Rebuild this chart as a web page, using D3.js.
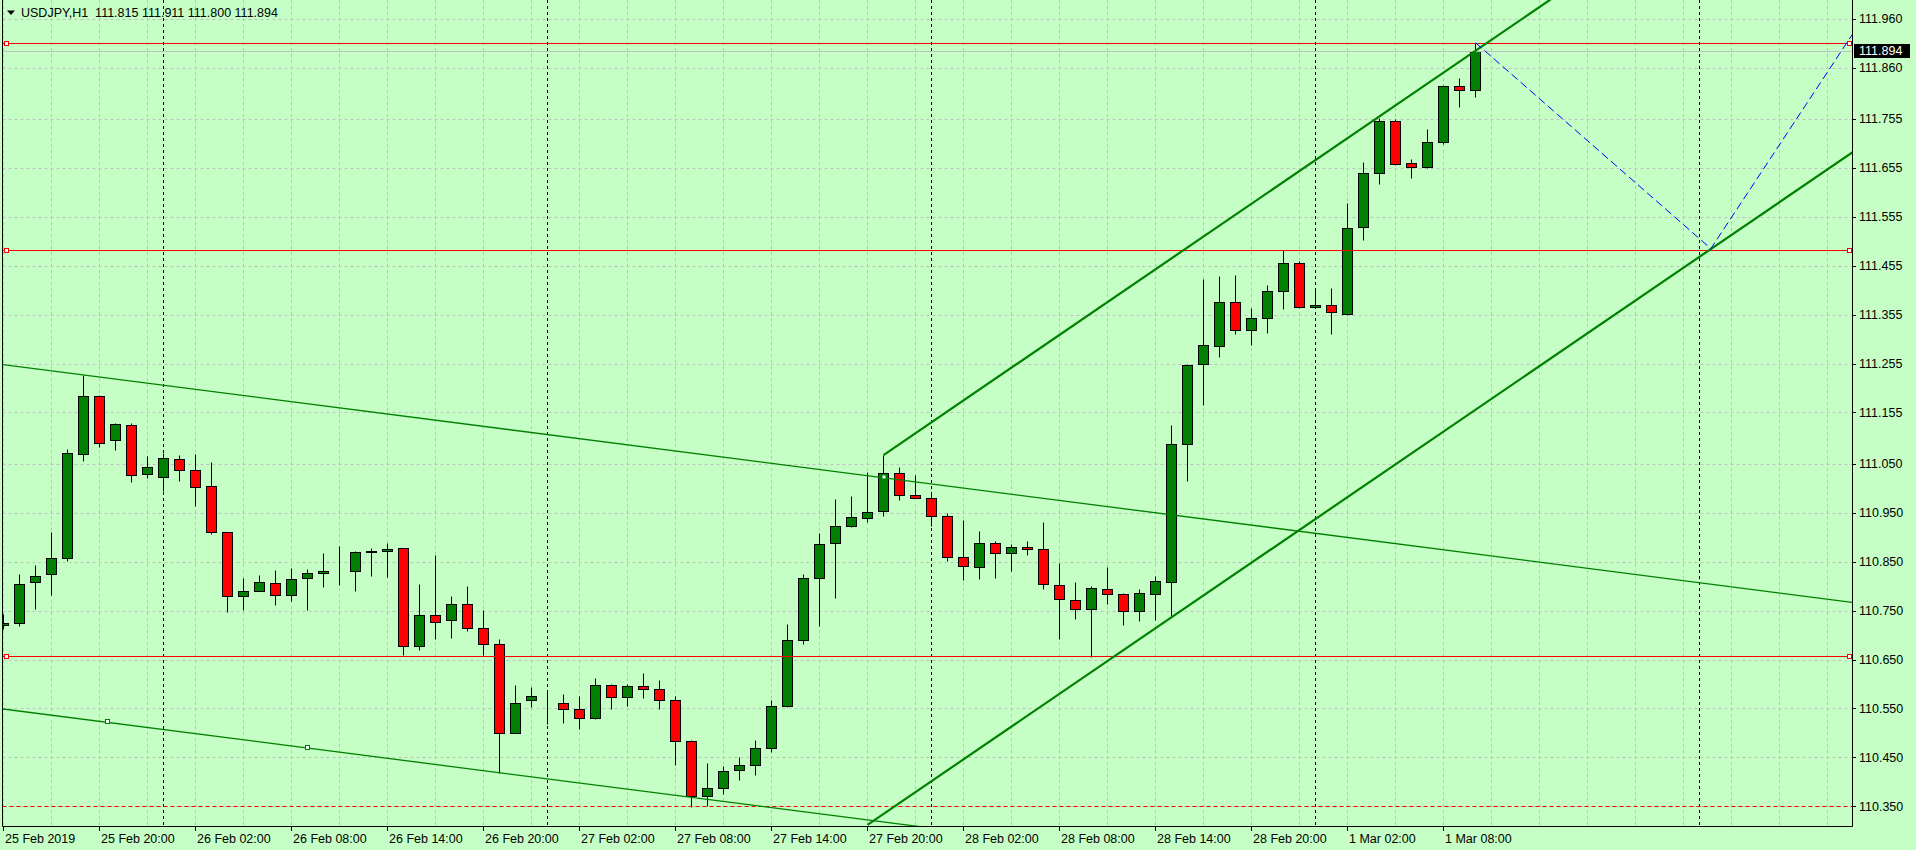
<!DOCTYPE html>
<html>
<head>
<meta charset="utf-8">
<script src="https://cdn.jsdelivr.net/npm/d3@7/dist/d3.min.js"></script>
<style>
  html, body { margin: 0; padding: 0; background: #c5ffc5; overflow: hidden; }
  svg text { font-family: "Liberation Sans", Arial, sans-serif; font-size: 12.5px; fill: #000; }
</style>
</head>
<body>
<svg id="chart" width="1916" height="850"></svg>
<script>
// USDJPY H1, bar 0 = 25 Feb 2019 14:00
const opens = [
  110.720, 110.725, 110.808, 110.824, 110.857, 111.070, 111.188, 111.098, 111.129, 111.029,
  111.023, 111.059, 111.037, 111.004, 110.910, 110.779, 110.790, 110.806, 110.781, 110.816,
  110.826, 110.832, 110.832, 110.869, 110.871, 110.877, 110.677, 110.742, 110.730, 110.763,
  110.714, 110.681, 110.499, 110.567, 110.562, 110.561, 110.548, 110.530, 110.597, 110.573,
  110.595, 110.589, 110.567, 110.483, 110.372, 110.387, 110.424, 110.434, 110.469, 110.555,
  110.689, 110.816, 110.888, 110.922, 110.939, 110.953, 111.031, 110.986, 110.980, 110.943,
  110.859, 110.839, 110.888, 110.867, 110.881, 110.875, 110.802, 110.771, 110.753, 110.794,
  110.783, 110.749, 110.785, 110.808, 111.090, 111.254, 111.290, 111.380, 111.323, 111.348,
  111.403, 111.460, 111.370, 111.374, 111.356, 111.534, 111.644, 111.750, 111.666, 111.656,
  111.707, 111.822, 111.815
];
const highs = [
  110.744, 110.825, 110.843, 110.911, 111.080, 111.232, 111.191, 111.133, 111.133, 111.066,
  111.073, 111.068, 111.070, 111.054, 110.910, 110.816, 110.823, 110.833, 110.837, 110.835,
  110.868, 110.882, 110.872, 110.878, 110.888, 110.877, 110.804, 110.864, 110.780, 110.800,
  110.751, 110.692, 110.598, 110.594, 110.583, 110.580, 110.575, 110.612, 110.599, 110.601,
  110.622, 110.608, 110.575, 110.485, 110.438, 110.432, 110.451, 110.486, 110.567, 110.723,
  110.824, 110.909, 110.978, 110.984, 111.033, 111.068, 111.043, 111.027, 110.992, 110.949,
  110.935, 110.913, 110.892, 110.886, 110.892, 110.931, 110.847, 110.809, 110.800, 110.839,
  110.787, 110.794, 110.820, 111.129, 111.254, 111.428, 111.434, 111.436, 111.368, 111.415,
  111.488, 111.464, 111.407, 111.410, 111.583, 111.668, 111.758, 111.754, 111.673, 111.734,
  111.824, 111.838, 111.911
];
const lows = [
  110.712, 110.719, 110.753, 110.781, 110.852, 111.056, 111.085, 111.079, 111.012, 111.022,
  110.995, 111.014, 110.964, 110.907, 110.747, 110.751, 110.790, 110.762, 110.770, 110.752,
  110.799, 110.803, 110.791, 110.821, 110.819, 110.659, 110.670, 110.692, 110.695, 110.709,
  110.659, 110.419, 110.499, 110.552, 110.518, 110.521, 110.509, 110.528, 110.548, 110.556,
  110.572, 110.549, 110.435, 110.349, 110.351, 110.375, 110.403, 110.413, 110.461, 110.552,
  110.682, 110.719, 110.776, 110.920, 110.931, 110.943, 110.976, 110.980, 110.922, 110.851,
  110.812, 110.814, 110.816, 110.832, 110.864, 110.795, 110.693, 110.733, 110.655, 110.764,
  110.721, 110.729, 110.731, 110.738, 111.014, 111.171, 111.268, 111.316, 111.292, 111.318,
  111.366, 111.368, 111.370, 111.316, 111.354, 111.508, 111.623, 111.660, 111.635, 111.654,
  111.703, 111.780, 111.800
];
const closes = [
  110.725, 110.804, 110.820, 110.857, 111.072, 111.188, 111.092, 111.131, 111.027, 111.043,
  111.063, 111.037, 111.002, 110.910, 110.779, 110.790, 110.808, 110.781, 110.814, 110.826,
  110.832, 110.832, 110.869, 110.872, 110.875, 110.677, 110.742, 110.727, 110.763, 110.714,
  110.681, 110.499, 110.561, 110.575, 110.561, 110.548, 110.530, 110.597, 110.573, 110.595,
  110.589, 110.567, 110.483, 110.372, 110.387, 110.422, 110.434, 110.469, 110.555, 110.689,
  110.816, 110.886, 110.924, 110.941, 110.951, 111.031, 110.986, 110.980, 110.943, 110.859,
  110.841, 110.888, 110.867, 110.881, 110.875, 110.804, 110.773, 110.753, 110.796, 110.783,
  110.749, 110.787, 110.810, 111.090, 111.252, 111.294, 111.380, 111.323, 111.348, 111.403,
  111.460, 111.370, 111.374, 111.360, 111.532, 111.644, 111.750, 111.664, 111.656, 111.707,
  111.822, 111.815, 111.894
];

const timeLabels = ['25 Feb 2019', '25 Feb 20:00', '26 Feb 02:00', '26 Feb 08:00', '26 Feb 14:00',
  '26 Feb 20:00', '27 Feb 02:00', '27 Feb 08:00', '27 Feb 14:00', '27 Feb 20:00', '28 Feb 02:00',
  '28 Feb 08:00', '28 Feb 14:00', '28 Feb 20:00', '1 Mar 02:00', '1 Mar 08:00'];
const labelBars = [0, 6, 12, 18, 24, 30, 36, 42, 48, 54, 60, 66, 72, 78, 84, 90];
const priceTicks = [110.350, 110.450, 110.550, 110.650, 110.750, 110.850, 110.950, 111.050,
  111.155, 111.255, 111.355, 111.455, 111.555, 111.655, 111.755, 111.860, 111.960];
const separatorBars = [10, 34, 58, 82, 106]; // midnight of each day
const gridBars = [0, 3, 6, 9, 12, 15, 18, 21, 24, 27, 30, 33, 36, 39, 42, 45, 48, 51, 54, 57, 60,
  63, 66, 69, 72, 75, 78, 81, 84, 87, 90, 93, 96, 99, 102, 105, 108, 111, 114];

// objects drawn on the chart
const redLevels = [111.911, 111.488, 110.657];
const dottedLevel = 110.350;
const bidPrice = 111.894;
const header = 'USDJPY,H1  111.815 111.911 111.800 111.894';
// [bar, price] pairs
const oldChannelUpper = [[-1, 111.257], [116, 110.765]];
const oldChannelLower = [[-1, 110.553], [70, 110.255]];
const oldChannelAnchors = [[6.5, 110.522], [19, 110.469]];
const channelUpper = [[55, 111.068], [120, 112.520]];
const channelLower = [[54, 110.312], [120, 111.786]];
const channelMarker = [55, 111.023];
const projection = [[92, 111.911], [106.71, 111.490], [116, 111.950]];

const PLOT = { LEFT: 2.5, RIGHT: 1852.5, TOP: 0, BOTTOM: 826.5 };
const BAR = 16;

const x = d3.scaleLinear().domain([0, 115]).range([3.5, 3.5 + BAR * 115]);
const y = d3.scaleLinear().domain([110.350, 111.960]).range([806.3, 18.7]);
const cy = v => Math.round(y(v)) + 0.5;

const svg = d3.select('#chart');
svg.append('rect').attr('width', 1916).attr('height', 850).attr('fill', '#c5ffc5');

svg.append('clipPath').attr('id', 'plot')
  .append('rect')
  .attr('x', PLOT.LEFT + 0.5).attr('y', PLOT.TOP)
  .attr('width', PLOT.RIGHT - PLOT.LEFT - 1).attr('height', PLOT.BOTTOM - PLOT.TOP - 0.5);

const plot = svg.append('g').attr('clip-path', 'url(#plot)');

// grid
plot.append('g').selectAll('line').data(priceTicks).join('line')
  .attr('x1', PLOT.LEFT).attr('x2', PLOT.RIGHT)
  .attr('y1', cy).attr('y2', cy)
  .attr('stroke', '#c0c0c0').attr('stroke-dasharray', '3,3');
plot.append('g').selectAll('line').data(gridBars).join('line')
  .attr('x1', x).attr('x2', x)
  .attr('y1', PLOT.TOP).attr('y2', PLOT.BOTTOM)
  .attr('stroke', '#c0c0c0').attr('stroke-dasharray', '3,3');
plot.append('g').selectAll('line').data(separatorBars).join('line')
  .attr('x1', x).attr('x2', x)
  .attr('y1', PLOT.TOP).attr('y2', PLOT.BOTTOM)
  .attr('stroke', '#000').attr('stroke-dasharray', '3,3');

// candles
const bars = d3.range(opens.length);
const candles = plot.append('g').selectAll('g').data(bars).join('g');
candles.append('line')
  .attr('x1', x).attr('x2', x)
  .attr('y1', i => cy(highs[i])).attr('y2', i => cy(lows[i]))
  .attr('stroke', '#000');
candles.append('rect')
  .attr('x', i => x(i) - 5)
  .attr('y', i => cy(Math.max(opens[i], closes[i])))
  .attr('width', 10)
  .attr('height', i => cy(Math.min(opens[i], closes[i])) - cy(Math.max(opens[i], closes[i])))
  .attr('fill', i => (closes[i] >= opens[i] ? '#008000' : '#ff0000'))
  .attr('stroke', '#000');

// objects
const line = d3.line().x(d => x(d[0])).y(d => y(d[1]));

plot.append('line')
  .attr('x1', PLOT.LEFT).attr('x2', PLOT.RIGHT)
  .attr('y1', cy(bidPrice)).attr('y2', cy(bidPrice))
  .attr('stroke', '#c0c0c0');

plot.append('line')
  .attr('x1', PLOT.LEFT).attr('x2', PLOT.RIGHT)
  .attr('y1', cy(dottedLevel)).attr('y2', cy(dottedLevel))
  .attr('stroke', '#ff0000').attr('stroke-dasharray', '4,3');

plot.append('g').selectAll('line').data(redLevels).join('line')
  .attr('x1', PLOT.LEFT).attr('x2', PLOT.RIGHT)
  .attr('y1', cy).attr('y2', cy)
  .attr('stroke', '#ff0000');

[oldChannelUpper, oldChannelLower].forEach(pts => {
  plot.append('path').attr('d', line(pts))
    .attr('fill', 'none').attr('stroke', '#008000').attr('stroke-width', 1.3);
});
[channelUpper, channelLower].forEach(pts => {
  plot.append('path').attr('d', line(pts))
    .attr('fill', 'none').attr('stroke', '#008000').attr('stroke-width', 2.2);
});
plot.append('path').attr('d', line(projection))
  .attr('fill', 'none').attr('stroke', '#0000ff').attr('stroke-dasharray', '8,4');

plot.append('g').selectAll('rect').data(oldChannelAnchors).join('rect')
  .attr('x', d => Math.round(x(d[0])) - 2.5).attr('y', d => Math.round(y(d[1])) - 2.5)
  .attr('width', 4).attr('height', 4)
  .attr('fill', '#ffffff').attr('stroke', '#008000');
plot.append('rect')
  .attr('x', Math.round(x(channelMarker[0])) - 1.5).attr('y', Math.round(y(channelMarker[1])) - 1.5)
  .attr('width', 3).attr('height', 3).attr('fill', '#ffffff');

// level end squares
const ends = [];
redLevels.forEach(v => { ends.push([PLOT.LEFT + 3, v]); ends.push([PLOT.RIGHT - 4, v]); });
plot.append('g').selectAll('rect').data(ends).join('rect')
  .attr('x', d => Math.round(d[0]) - 1.5).attr('y', d => cy(d[1]) - 2)
  .attr('width', 4).attr('height', 4)
  .attr('fill', '#ffffff').attr('stroke', '#ff0000');

// frame
svg.append('path')
  .attr('d', `M${PLOT.LEFT},0V${PLOT.BOTTOM}H${PLOT.RIGHT}V0`)
  .attr('fill', 'none').attr('stroke', '#000');

// price axis
const pAxis = svg.append('g');
pAxis.selectAll('line').data(priceTicks).join('line')
  .attr('x1', PLOT.RIGHT).attr('x2', PLOT.RIGHT + 3.5)
  .attr('y1', cy).attr('y2', cy).attr('stroke', '#000');
pAxis.selectAll('text').data(priceTicks).join('text')
  .attr('x', 1859).attr('y', v => y(v) + 4.5)
  .text(v => d3.format('.3f')(v));

pAxis.append('rect')
  .attr('x', 1854).attr('y', Math.round(y(bidPrice)) - 7)
  .attr('width', 56).attr('height', 14).attr('fill', '#000');
pAxis.append('text')
  .attr('x', 1859).attr('y', y(bidPrice) + 4.5)
  .style('fill', '#fff')
  .text(d3.format('.3f')(bidPrice));

// time axis
const tAxis = svg.append('g');
tAxis.selectAll('line').data(labelBars).join('line')
  .attr('x1', x).attr('x2', x)
  .attr('y1', PLOT.BOTTOM).attr('y2', PLOT.BOTTOM + 4.5)
  .attr('stroke', '#000');
tAxis.selectAll('text').data(labelBars).join('text')
  .attr('x', b => x(b) + 1.5).attr('y', 843)
  .text((b, i) => timeLabels[i]);

// header
svg.append('path').attr('d', 'M7,10.5H15L11,15Z').attr('fill', '#000');
svg.append('text').attr('x', 21).attr('y', 17.3).style('white-space', 'pre').text(header);
</script>
</body>
</html>
